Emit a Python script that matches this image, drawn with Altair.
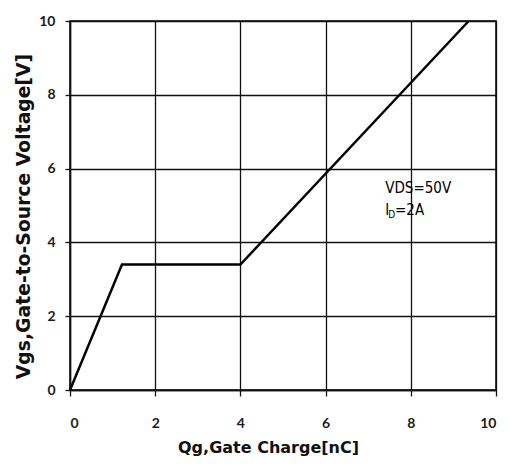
import altair as alt
import pandas as pd

# Curve data
qg = [0.0, 1.22, 4.0, 9.36]
vgs = [0.0, 3.4, 3.4, 10.0]

x_ticks = [0, 2, 4, 6, 8, 10]
y_ticks = [0, 2, 4, 6, 8, 10]

# annotation pieces
ann_text = ["VDS=50V", "I", "D", "=2A"]
ann_x = [7.4, 7.4, 7.47, 7.63]
ann_y = [5.34, 4.74, 4.66, 4.74]
ann_size = [15, 15, 10, 15]

df = pd.DataFrame({"qg": qg, "vgs": vgs})
ann = pd.DataFrame({"t": ann_text, "x": ann_x, "y": ann_y, "s": ann_size})

label_font = "Lato"
title_font = "DejaVu Sans"

xenc = alt.X("qg:Q", scale=alt.Scale(domain=[0, 10], nice=False),
             axis=alt.Axis(values=x_ticks, title="Qg,Gate Charge[nC]", format="d",
                           tickSize=6, labelPadding=20, titleX=198, titleY=62,
                           titleBaseline="alphabetic", titleFontSize=16))
yenc = alt.Y("vgs:Q", scale=alt.Scale(domain=[0, 10], nice=False),
             axis=alt.Axis(values=y_ticks, title="Vgs,Gate-to-Source Voltage[V]", format="d",
                           tickSize=5, labelPadding=10, titleX=-37, titleY=195,
                           titleFontSize=18.8))

line = alt.Chart(df).mark_line(color="black", strokeWidth=2.5).encode(x=xenc, y=yenc)

text = alt.Chart(ann).mark_text(
    align="left", baseline="alphabetic", color="#000", fontWeight=500,
    font="Liberation Sans Narrow, DejaVu Sans Condensed, sans-serif"
).encode(
    x=alt.X("x:Q"), y=alt.Y("y:Q"), text="t:N", size=alt.Size("s:Q", scale=None)
)

chart = (line + text).properties(
    width=426, height=369,
    autosize=alt.AutoSizeParams(type="none"),
    padding={"left": 62, "top": 13, "right": 6, "bottom": 66},
).configure_view(
    stroke="black", strokeWidth=1.5
).configure_axis(
    grid=True, gridColor="#111", gridWidth=1.3, gridOpacity=1,
    domainColor="#111", domainWidth=1.5, tickColor="#111", tickWidth=1.3,
    labelFont=label_font, labelFontWeight="bold", labelFontSize=14, labelColor="#1a1a1a",
    titleFont=title_font, titleFontWeight="bold", titleColor="#111",
)

chart.save("out.html", embed_options={"renderer": "svg", "actions": False})
